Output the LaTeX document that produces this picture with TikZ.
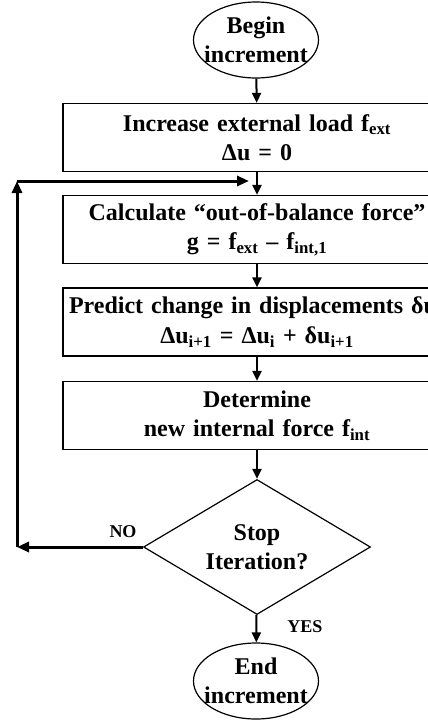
\documentclass[tikz,border=0pt]{standalone}
\usepackage{fontspec}
\setmainfont{Liberation Serif}
\usetikzlibrary{shapes.geometric,arrows.meta}

\begin{document}
\begin{tikzpicture}[x=1pt,y=-1pt,
    font=\bfseries\fontsize{24}{29.5}\selectfont,
    term/.style={ellipse,draw,line width=1.2pt,minimum width=125pt,minimum height=76pt,inner sep=0pt,align=center},
    stepbox/.style={rectangle,draw,line width=1.2pt,text width=376pt,inner xsep=6pt,minimum height=68pt,align=center},
    test/.style={diamond,draw,line width=1.2pt,aspect=1.7,minimum width=227pt,minimum height=135pt,inner sep=0pt,align=center},
    answer/.style={font=\bfseries\fontsize{18}{20}\selectfont},
    flow/.style={-{Triangle[length=10pt,width=9pt]},line width=2pt},
    back/.style={-{Triangle[length=12pt,width=10pt]},line width=3pt}]
    \useasboundingbox (0,0) rectangle (428,721);
    \clip (0,0) rectangle (428,721);

    \node[term] (begin) at (256,40) {Begin\\\makebox[80pt]{increment}};
    \node[stepbox] (load) at (257,137.5) {Increase external load f\textsubscript{ext}\\Δu = 0};
    \node[stepbox] (gforce) at (257,229.5) {Calculate “out-of-balance force”\\g = f\textsubscript{ext} – f\textsubscript{int,1}};
    \node[stepbox] (predict) at (257,322) {\mbox{Predict change in displacements δu\textsubscript{i+1}}\\Δu\textsubscript{i+1} = Δu\textsubscript{i} + δu\textsubscript{i+1}};
    \node[stepbox] (fint) at (257,415.5) {Determine\\new internal force f\textsubscript{int}};
    \node[test] (stop) at (257,547) {Stop\\Iteration?};
    \node[term] (end) at (256,681) {End\\\makebox[80pt]{increment}};

    \node[answer] (no) at (123,532) {NO};
    \node[answer] (yes) at (305,627) {YES};

    \coordinate (noend) at (17,547);
    \coordinate (backup) at (17,181);
    \coordinate (backin) at (249,181);

    \draw[flow] (begin) -- (load);
    \draw[flow] (load) -- (gforce);
    \draw[flow] (gforce) -- (predict);
    \draw[flow] (predict) -- (fint);
    \draw[flow] (fint) -- (stop);
    \draw[flow] (stop) -- (end);

    \draw[back] (stop.west) -- (noend);
    \draw[back] (noend) -- (backup);
    \draw[back] (backup) -- (backin);
\end{tikzpicture}
\end{document}
